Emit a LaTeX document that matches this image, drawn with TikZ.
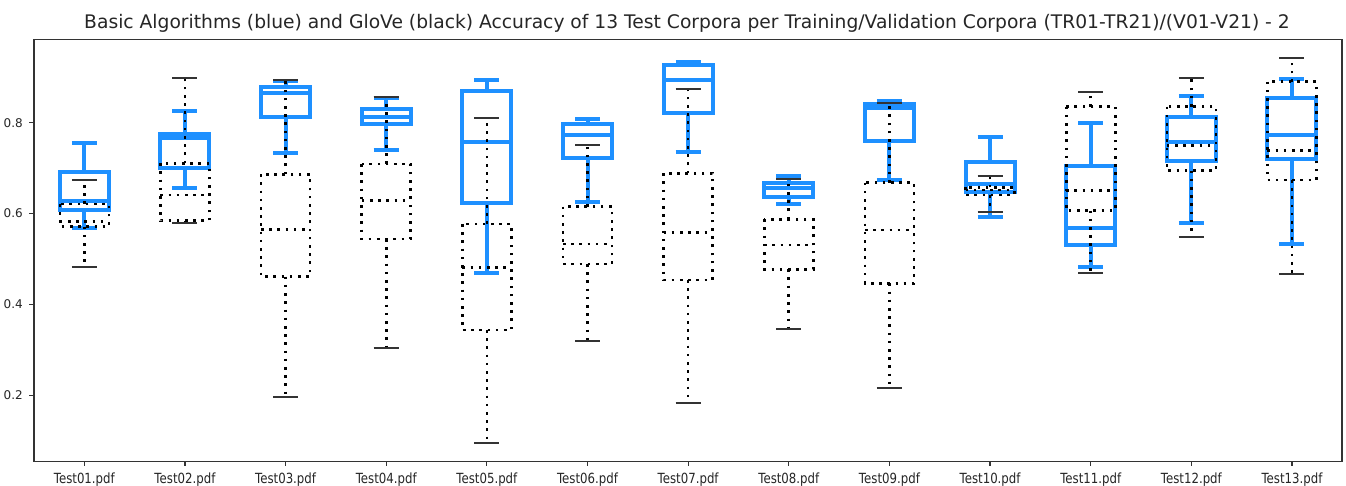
\documentclass[tikz,border=0pt]{standalone}
\usepackage{fontspec}
\setmainfont{DejaVu Sans}
\definecolor{mplblue}{HTML}{1E90FF}
\definecolor{txt}{HTML}{262626}
\begin{document}
\begin{tikzpicture}[x=1pt,y=-1pt,
  bluebox/.style={draw=mplblue, line width=4pt},
  dotbox/.style={draw=black, line width=2.6pt, dash pattern=on 2.6pt off 5.6pt},
  blkcap/.style={draw=black!80, line width=2pt},
  framebox/.style={draw=black!80, line width=1.5pt},
  ticklab/.style={font=\fontsize{12}{14}\selectfont, text=txt, inner sep=0pt},
  xlab/.style={font=\fontsize{14}{16}\selectfont, text=txt, inner sep=0pt, anchor=base},
  tickmark/.style={draw=black!80, line width=1.2pt}
]
\useasboundingbox (0,0) rectangle (1346,486);
\fill[white] (0,0) rectangle (1346,486);

% blue boxes: index / capTop / Q3 / median / Q1 / capBot
\foreach \i/\a/\b/\c/\d/\e in {
 1/143.3/172.3/200.7/210.3/227.7,
 2/111/133.7/137.7/168.3/188.3,
 3/80.7/87.3/93.3/116.7/153.3,
 4/98.3/109/117/124/150,
 5/80/90.7/141.7/203.3/272.7,
 6/119/123.7/135.3/158.3/202.3,
 7/61.7/65/80/112.7/151.7,
 8/175.7/183.3/187.7/196.7/204,
 9/100.7/104/108.5/141.3/180,
 10/137.3/162/184/192/216.7,
 11/122.7/165.7/228.3/245/266.7,
 12/95.7/116.7/141.7/161/222.7,
 13/79.3/98.3/135/159.3/244.3}{
  \pgfmathsetmacro\x{84.3+100.64*(\i-1)}
  \draw[bluebox] (\x-24.5,\b) rectangle (\x+24.5,\d);
  \draw[bluebox] (\x-24.5,\c) -- (\x+24.5,\c);
  \draw[bluebox] (\x,\b) -- (\x,\a);
  \draw[bluebox] (\x,\d) -- (\x,\e);
  \draw[bluebox] (\x-12.5,\a) -- (\x+12.5,\a);
  \draw[bluebox] (\x-12.5,\e) -- (\x+12.5,\e);
}

% black (GloVe) boxes
\foreach \i/\a/\b/\c/\d/\e in {
 1/180/204/221.7/226.7/266.7,
 2/78.3/163.3/195/220.7/222.7,
 3/80/174.3/229.3/276.7/396.7,
 4/97.3/164/200.7/239/348.3,
 5/118.3/224/267.3/330/442.7,
 6/145/206.7/244/264/340.7,
 7/89.3/173.3/232.3/280/403.3,
 8/179/219.3/245/269.3/329,
 9/103.3/182.7/230/283.3/387.7,
 10/175.7/187.5/190/195/211.7,
 11/92.3/106.7/190.7/210.7/272.7,
 12/78.3/106.7/145.7/170.7/236.7,
 13/57.7/81.7/150.7/180/274.3}{
  \pgfmathsetmacro\x{84.3+100.64*(\i-1)}
  \draw[dotbox] (\x-24.5,\b) rectangle (\x+24.5,\d);
  \draw[dotbox] (\x-24.5,\c) -- (\x+24.5,\c);
  \draw[dotbox] (\x,\b) -- (\x,\a);
  \draw[dotbox] (\x,\d) -- (\x,\e);
  \draw[blkcap] (\x-12.5,\a) -- (\x+12.5,\a);
  \draw[blkcap] (\x-12.5,\e) -- (\x+12.5,\e);
}

% axes frame
\draw[framebox] (34,39.5) rectangle (1342,461.7);

% y ticks
\foreach \v/\y [count=\k] in {0.8/122.7,0.6/213.6,0.4/304.4,0.2/395.3}{
  \draw[tickmark] (29.3,\y) -- (34,\y);
  \node[ticklab, anchor=east] (yl\k) at (23,\y) {\v};
}

% x ticks
\foreach \i/\t in {1/01,2/02,3/03,4/04,5/05,6/06,7/07,8/08,9/09,10/10,11/11,12/12,13/13}{
  \pgfmathsetmacro\x{84.3+100.64*(\i-1)}
  \draw[tickmark] (\x,461.7) -- (\x,466.4);
  \node[xlab] (xl\i) at (\x,483.3) {\scalebox{0.84}[1]{Test\t.pdf}};
}

% title
\node[font=\fontsize{18.7}{22}\selectfont, text=txt, anchor=base, inner sep=0pt] (title) at (687,29)
  {Basic Algorithms (blue) and GloVe (black) Accuracy of 13 Test Corpora per Training/Validation Corpora (TR01-TR21)/(V01-V21) - 2};
\end{tikzpicture}
\end{document}
